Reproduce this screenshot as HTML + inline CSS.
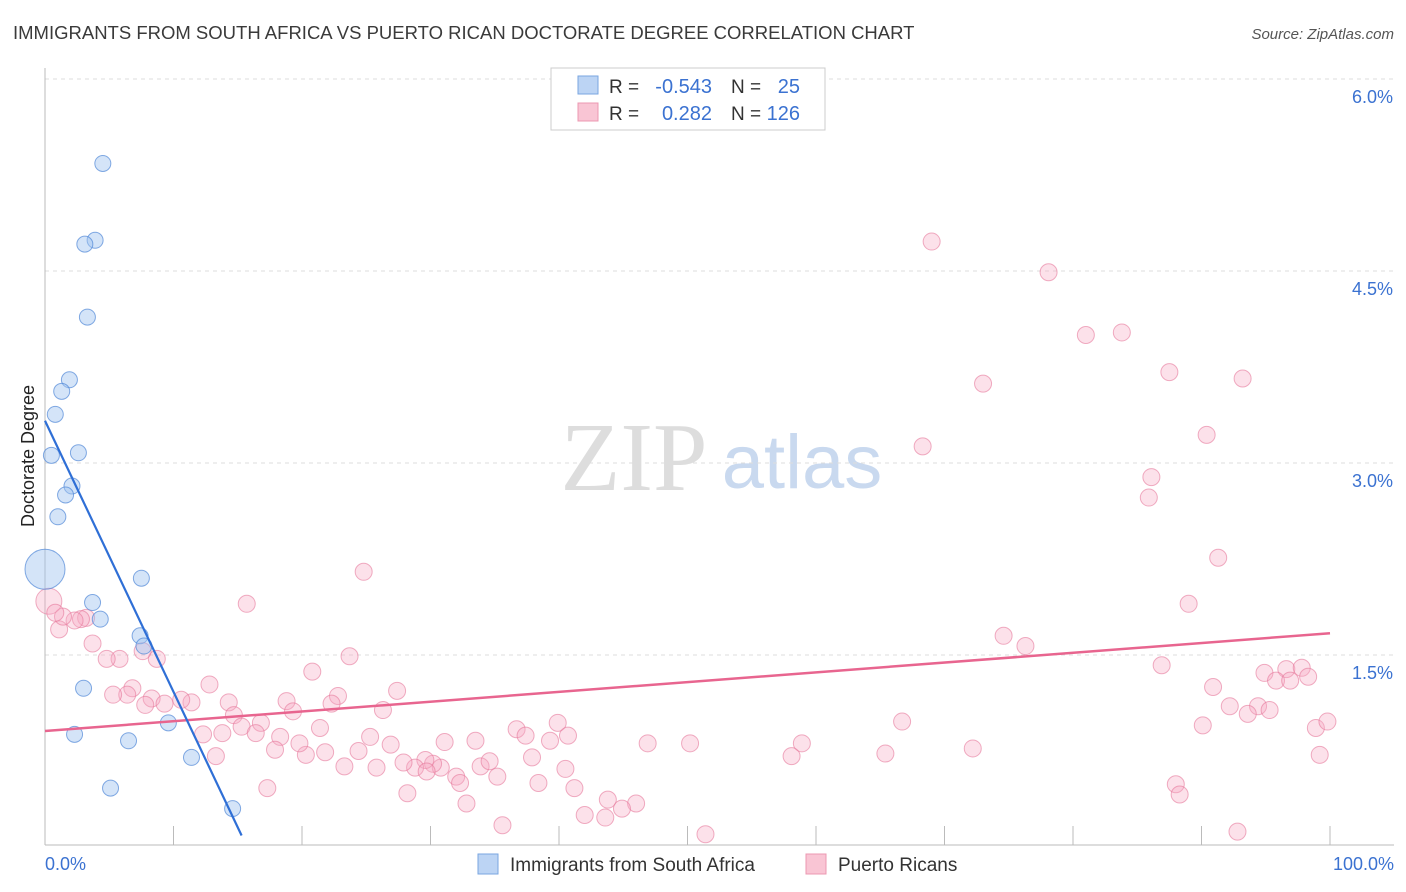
<!DOCTYPE html>
<html><head><meta charset="utf-8">
<style>
body{margin:0;background:#fff;font-family:"Liberation Sans",sans-serif;}
#wrap{position:relative;width:1406px;height:892px;overflow:hidden;}
</style></head>
<body>
<div id="wrap">
<svg id="chart" width="1406" height="892" xmlns="http://www.w3.org/2000/svg">
<text x="13" y="39" font-size="18.5" fill="#3a3a3a">IMMIGRANTS FROM SOUTH AFRICA VS PUERTO RICAN DOCTORATE DEGREE CORRELATION CHART</text>
<text x="1394" y="39" font-size="15" fill="#555" font-style="italic" text-anchor="end">Source: ZipAtlas.com</text>
<text x="634" y="490" font-size="98" fill="#ddd" font-family="Liberation Serif,serif" text-anchor="middle">ZIP</text>
<text x="802" y="488" font-size="76" fill="#c9d9ef" text-anchor="middle">atlas</text>
<text transform="translate(34,456) rotate(-90)" font-size="18" fill="#222" text-anchor="middle">Doctorate Degree</text>
<g id="grid"></g><g id="marks"></g>
<g>
<rect x="551" y="68" width="274" height="62" fill="#fff" stroke="#ccc"/>
<rect x="578" y="76" width="20" height="18" fill="#bcd4f4" stroke="#7aa6e0"/>
<rect x="578" y="103" width="20" height="18" fill="#f9c5d4" stroke="#ec98b2"/>
<text x="609" y="93" font-size="19" fill="#333">R =</text>
<text x="712" y="93" font-size="20" fill="#3b72d1" text-anchor="end">-0.543</text>
<text x="731" y="93" font-size="19" fill="#333">N =</text>
<text x="800" y="93" font-size="20" fill="#3b72d1" text-anchor="end">25</text>
<text x="609" y="120" font-size="19" fill="#333">R =</text>
<text x="712" y="120" font-size="20" fill="#3b72d1" text-anchor="end">0.282</text>
<text x="731" y="120" font-size="19" fill="#333">N =</text>
<text x="800" y="120" font-size="20" fill="#3b72d1" text-anchor="end">126</text>
</g>
<g>
<rect x="478" y="854" width="20" height="20" fill="#bcd4f4" stroke="#7aa6e0"/>
<text x="510" y="871" font-size="19" fill="#333">Immigrants from South Africa</text>
<rect x="806" y="854" width="20" height="20" fill="#f9c5d4" stroke="#ec98b2"/>
<text x="838" y="871" font-size="19" fill="#333">Puerto Ricans</text>
</g>
</svg>
</div>
<script>
const yTicks=[1.5,3.0,4.5,6.0];
const yTickLabels=["1.5%","3.0%","4.5%","6.0%"];
const xTickCount=10;
const blueX=[4.5,3.9,3.1,3.3,1.9,1.3,0.8,0.5,2.6,2.1,1.6,1.0,0,7.5,3.7,4.3,7.4,7.7,3.0,2.3,6.5,9.6,11.4,5.1,14.6];
const blueY=[5.34,4.74,4.71,4.14,3.65,3.56,3.38,3.06,3.08,2.82,2.75,2.58,2.17,2.10,1.91,1.78,1.65,1.57,1.24,0.88,0.83,0.97,0.70,0.46,0.30];
const blueR=[8,8,8,8,8,8,8,8,8,8,8,8,20,8,8,8,8,8,8,8,8,8,8,8,8];
const pinkX=[24.8,15.7,23.7,20.8,12.8,27.4,18.8,19.3,22.8,22.3,26.3,14.3,14.7,15.3,16.8,16.4,18.3,21.4,25.3,26.9,33.9,36.7,37.4,39.9,39.3,40.7,31.1,33.5,46.9,34.6,35.2,37.9,40.5,38.4,41.2,43.8,46.0,44.9,42.0,43.6,35.6,32.8,32.0,32.3,30.8,30.2,29.6,28.8,29.7,27.9,28.2,25.8,23.3,24.4,21.8,17.3,20.3,19.8,17.9,13.3,13.8,12.3,11.4,10.6,8.3,7.8,9.3,6.8,6.4,5.3,8.7,7.6,5.8,4.8,3.7,3.2,2.8,2.3,1.1,1.4,0.3,0.8,
69.0,78.1,81.0,83.8,73.0,87.5,93.2,68.3,90.4,86.1,85.9,91.3,89.0,74.6,76.3,86.9,90.9,94.9,96.6,95.8,97.8,96.9,98.3,94.4,92.2,93.6,95.3,90.1,98.9,99.8,99.2,66.7,58.1,65.4,72.2,88.0,88.3,92.8,51.4,50.2,58.9];
const pinkY=[2.15,1.90,1.49,1.37,1.27,1.22,1.14,1.06,1.18,1.12,1.07,1.13,1.03,0.94,0.97,0.89,0.86,0.93,0.86,0.80,0.63,0.92,0.87,0.97,0.83,0.87,0.82,0.83,0.81,0.67,0.55,0.70,0.61,0.50,0.46,0.37,0.34,0.30,0.25,0.23,0.17,0.34,0.55,0.50,0.62,0.65,0.68,0.62,0.59,0.66,0.42,0.62,0.63,0.75,0.74,0.46,0.72,0.81,0.76,0.71,0.89,0.88,1.13,1.15,1.16,1.11,1.12,1.24,1.19,1.19,1.47,1.53,1.47,1.47,1.59,1.79,1.78,1.77,1.70,1.80,1.92,1.83,
4.73,4.49,4.00,4.02,3.62,3.71,3.66,3.13,3.22,2.89,2.73,2.26,1.90,1.65,1.57,1.42,1.25,1.36,1.39,1.30,1.40,1.30,1.33,1.10,1.10,1.04,1.07,0.95,0.93,0.98,0.72,0.98,0.71,0.73,0.77,0.49,0.41,0.12,0.10,0.81,0.81];
const blueTrend=[0,3.33,15.3,0.09];
const pinkTrend=[0,0.906,100,1.67];
const X0=45,X1=1330,Yzero=847,PPU=128;
function sx(v){return X0+(X1-X0)*v/100;}
function sy(v){return Yzero-v*PPU;}
const NS="http://www.w3.org/2000/svg";
const grid=document.getElementById('grid'),marks=document.getElementById('marks');
function mk(tag,attrs,parent){const e=document.createElementNS(NS,tag);for(const k in attrs)e.setAttribute(k,attrs[k]);parent.appendChild(e);return e;}
yTicks.forEach((t,i)=>{
 const l=mk('line',{x1:45,x2:1394,y1:sy(t),y2:sy(t),stroke:'#ddd','stroke-dasharray':'4,4'},grid);
 
 
 const tx=mk('text',{x:1393,y:sy(t)+24,'font-size':18,fill:'#3b72d1','text-anchor':'end'},grid);
 tx.textContent=yTickLabels[i];
 
 
});
const ax=mk('line',{x1:45,x2:45,y1:68,y2:845,stroke:'#bbb'},grid);


const bx=mk('line',{x1:45,x2:1394,y1:845,y2:845,stroke:'#bbb'},grid);


for(let i=1;i<=xTickCount;i++){const t=mk('line',{x1:sx(i*10),x2:sx(i*10),y1:826,y2:845,stroke:'#bbb'},grid);
 
 }
const xl=mk('text',{x:45,y:870,'font-size':18,fill:'#3b72d1'},grid);xl.textContent='0.0%';


const xr=mk('text',{x:1394,y:870,'font-size':18,fill:'#3b72d1','text-anchor':'end'},grid);xr.textContent='100.0%';


pinkX.forEach((x,i)=>{const c=mk('circle',{cx:sx(x),cy:sy(pinkY[i]),r:i===80?13:8.5,fill:'rgba(247,170,195,0.35)',stroke:'rgba(230,120,155,0.6)','stroke-width':1},marks);
 
 });
blueX.forEach((x,i)=>{const c=mk('circle',{cx:sx(x),cy:sy(blueY[i]),r:blueR[i],fill:'rgba(160,195,240,0.45)',stroke:'rgba(80,135,215,0.7)','stroke-width':1},marks);
 
 });
const pl=mk('line',{x1:sx(pinkTrend[0]),y1:sy(pinkTrend[1]),x2:sx(pinkTrend[2]),y2:sy(pinkTrend[3]),stroke:'#e8658f','stroke-width':2.5},marks);


const bl=mk('line',{x1:sx(blueTrend[0]),y1:sy(blueTrend[1]),x2:sx(blueTrend[2]),y2:sy(blueTrend[3]),stroke:'#2f6fd6','stroke-width':2.2},marks);


</script>
</body></html>
